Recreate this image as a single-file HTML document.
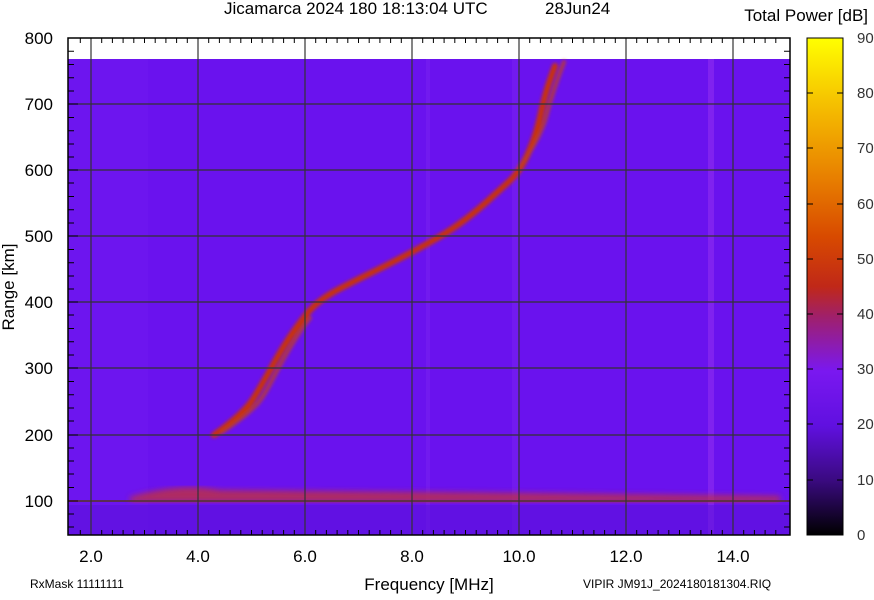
<!DOCTYPE html><html><head><style>body{margin:0;background:#fff;width:874px;height:595px;overflow:hidden}svg{font-family:"Liberation Sans",sans-serif}</style></head><body>
<svg width="874" height="595" viewBox="0 0 874 595">
<defs>
<linearGradient id="cb" x1="0" y1="1" x2="0" y2="0">
<stop offset="0" stop-color="#000"/><stop offset="0.11" stop-color="#3a0a80"/><stop offset="0.22" stop-color="#6010e0"/><stop offset="0.33" stop-color="#7a18f0"/><stop offset="0.44" stop-color="#a0206a"/><stop offset="0.5" stop-color="#c02818"/><stop offset="0.6" stop-color="#d84a00"/><stop offset="0.72" stop-color="#e88000"/><stop offset="0.85" stop-color="#f4b800"/><stop offset="1" stop-color="#ffff00"/></linearGradient>
<filter id="bl"><feGaussianBlur stdDeviation="1.5"/></filter>
<filter id="bl2"><feGaussianBlur stdDeviation="3"/></filter>
</defs>
<rect x="68" y="59" width="722" height="476" fill="#6a12ee"/>
<rect x="68" y="59" width="80" height="476" fill="#7018f0" opacity=".6"/>
<rect x="708" y="59" width="6" height="476" fill="#8a2af0" opacity=".7"/>
<rect x="426" y="59" width="4" height="476" fill="#7a22f0" opacity=".5"/>
<rect x="512" y="59" width="6" height="476" fill="#7a22f0" opacity=".5"/>
<rect x="68" y="505" width="722" height="30" fill="#5810d8" opacity=".5"/>
<path d="M130,497 Q180,482 220,490 L520,493 L780,496 L780,502 L130,502Z" fill="#c03040" filter="url(#bl2)" opacity=".8"/>
<line x1="68" y1="501" x2="790" y2="501" stroke="#c03050" stroke-width="2" opacity=".6"/>
<g fill="none" stroke-linecap="round" filter="url(#bl)">
<path d="M214,435 C235,420 245,410 251,402 S270,370 278,356 S298,325 305,316 S320,300 332,293 S365,276 385,266 S420,248 439,237 S478,210 492,197 S512,180 519,170 S535,140 540,117 S548,85 555,66" stroke="#c83010" stroke-width="6"/>
<path d="M222,432 C240,420 250,412 258,403 S276,372 284,358 S303,326 310,318 M519,168 S540,140 546,117 S557,80 564,62" stroke="#c04020" stroke-width="4" opacity=".8"/>
</g>
<g stroke="#333" stroke-width="1.2">
<line x1="91" y1="38" x2="91" y2="535"/><line x1="198" y1="38" x2="198" y2="535"/><line x1="305" y1="38" x2="305" y2="535"/><line x1="412" y1="38" x2="412" y2="535"/><line x1="519" y1="38" x2="519" y2="535"/><line x1="626" y1="38" x2="626" y2="535"/><line x1="733" y1="38" x2="733" y2="535"/>
<line x1="68" y1="104" x2="790" y2="104"/><line x1="68" y1="170" x2="790" y2="170"/><line x1="68" y1="236" x2="790" y2="236"/><line x1="68" y1="302" x2="790" y2="302"/><line x1="68" y1="368" x2="790" y2="368"/><line x1="68" y1="435" x2="790" y2="435"/><line x1="68" y1="501" x2="790" y2="501"/>
</g>
<rect x="68" y="38" width="722" height="497" fill="none" stroke="#000" stroke-width="1.5"/>
<g stroke="#000" stroke-width="1">
<path d="M101.7,38v5M112.4,38v5M123.1,38v5M133.8,38v5M144.5,38v5M155.2,38v5M165.9,38v5M176.6,38v5M187.3,38v5M208.7,38v5M219.4,38v5M230.1,38v5M240.8,38v5M251.5,38v5M262.2,38v5M272.9,38v5M283.6,38v5M294.3,38v5M315.7,38v5M326.4,38v5M337.1,38v5M347.8,38v5M358.5,38v5M369.2,38v5M379.9,38v5M390.6,38v5M401.3,38v5M422.7,38v5M433.4,38v5M444.1,38v5M454.8,38v5M465.5,38v5M476.2,38v5M486.9,38v5M497.6,38v5M508.3,38v5M529.7,38v5M540.4,38v5M551.1,38v5M561.8,38v5M572.5,38v5M583.2,38v5M593.9,38v5M604.6,38v5M615.3,38v5M636.7,38v5M647.4,38v5M658.1,38v5M668.8,38v5M679.5,38v5M690.2,38v5M700.9,38v5M711.6,38v5M722.3,38v5M743.7,38v5M754.4,38v5M765.1,38v5M775.8,38v5M80.3,38v5"/>
<path d="M101.7,535v-5M112.4,535v-5M123.1,535v-5M133.8,535v-5M144.5,535v-5M155.2,535v-5M165.9,535v-5M176.6,535v-5M187.3,535v-5M208.7,535v-5M219.4,535v-5M230.1,535v-5M240.8,535v-5M251.5,535v-5M262.2,535v-5M272.9,535v-5M283.6,535v-5M294.3,535v-5M315.7,535v-5M326.4,535v-5M337.1,535v-5M347.8,535v-5M358.5,535v-5M369.2,535v-5M379.9,535v-5M390.6,535v-5M401.3,535v-5M422.7,535v-5M433.4,535v-5M444.1,535v-5M454.8,535v-5M465.5,535v-5M476.2,535v-5M486.9,535v-5M497.6,535v-5M508.3,535v-5M529.7,535v-5M540.4,535v-5M551.1,535v-5M561.8,535v-5M572.5,535v-5M583.2,535v-5M593.9,535v-5M604.6,535v-5M615.3,535v-5M636.7,535v-5M647.4,535v-5M658.1,535v-5M668.8,535v-5M679.5,535v-5M690.2,535v-5M700.9,535v-5M711.6,535v-5M722.3,535v-5M743.7,535v-5M754.4,535v-5M765.1,535v-5M775.8,535v-5M80.3,535v-5"/>
<path d="M68,51.2h6M68,64.5h6M68,77.7h6M68,91h6M68,117.5h6M68,130.7h6M68,144h6M68,157h6M68,183h6M68,196.5h6M68,209.7h6M68,223h6M68,249.5h6M68,262.7h6M68,276h6M68,289h6M68,315h6M68,328.5h6M68,341.7h6M68,355h6M68,381.5h6M68,394.7h6M68,408h6M68,421h6M68,448h6M68,461h6M68,474h6M68,487.5h6M68,514h6M68,527h6"/>
<path d="M790,51.2h-6M790,64.5h-6M790,77.7h-6M790,91h-6M790,117.5h-6M790,130.7h-6M790,144h-6M790,157h-6M790,183h-6M790,196.5h-6M790,209.7h-6M790,223h-6M790,249.5h-6M790,262.7h-6M790,276h-6M790,289h-6M790,315h-6M790,328.5h-6M790,341.7h-6M790,355h-6M790,381.5h-6M790,394.7h-6M790,408h-6M790,421h-6M790,448h-6M790,461h-6M790,474h-6M790,487.5h-6M790,514h-6M790,527h-6"/>
<path d="M68,38h10M68,104h10M68,170h10M68,236h10M68,302h10M68,368h10M68,435h10M68,501h10"/>
</g>
<g font-size="17" fill="#000">
<text x="53" y="44" text-anchor="end">800</text><text x="53" y="110" text-anchor="end">700</text><text x="53" y="176" text-anchor="end">600</text><text x="53" y="242" text-anchor="end">500</text><text x="53" y="308" text-anchor="end">400</text><text x="53" y="374" text-anchor="end">300</text><text x="53" y="441" text-anchor="end">200</text><text x="53" y="507" text-anchor="end">100</text>
<text x="91" y="562" text-anchor="middle">2.0</text><text x="198" y="562" text-anchor="middle">4.0</text><text x="305" y="562" text-anchor="middle">6.0</text><text x="412" y="562" text-anchor="middle">8.0</text><text x="519" y="562" text-anchor="middle">10.0</text><text x="626" y="562" text-anchor="middle">12.0</text><text x="733" y="562" text-anchor="middle">14.0</text>
<text x="429" y="590" text-anchor="middle">Frequency [MHz]</text>
<text transform="translate(14,287) rotate(-90)" text-anchor="middle">Range [km]</text>
<text x="224" y="14">Jicamarca 2024 180 18:13:04 UTC</text><text x="545" y="14">28Jun24</text>
<text x="868" y="21" text-anchor="end">Total Power [dB]</text>
</g>
<g font-size="12" fill="#000"><text x="30" y="588">RxMask 11111111</text><text x="583" y="588">VIPIR  JM91J_2024180181304.RIQ</text></g>
<rect x="807" y="38" width="36" height="497" fill="url(#cb)" stroke="#000"/>
<g stroke="#000"><path d="M807,93h6M837,93h6M807,148h6M837,148h6M807,204h6M837,204h6M807,259h6M837,259h6M807,314h6M837,314h6M807,369h6M837,369h6M807,424h6M837,424h6M807,480h6M837,480h6"/></g>
<g font-size="15" fill="#333"><text x="857" y="43">90</text><text x="857" y="98">80</text><text x="857" y="153">70</text><text x="857" y="209">60</text><text x="857" y="264">50</text><text x="857" y="319">40</text><text x="857" y="374">30</text><text x="857" y="429">20</text><text x="857" y="485">10</text><text x="857" y="540">0</text></g>
</svg></body></html>
